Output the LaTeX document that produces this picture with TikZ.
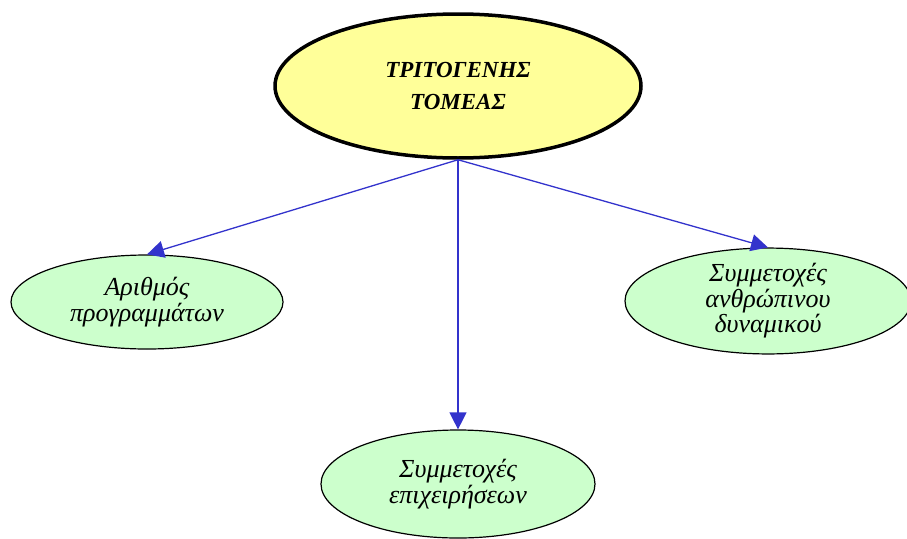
\documentclass[tikz,border=0pt]{standalone}
\usepackage{fontspec}
\setmainfont{Liberation Serif}
\usetikzlibrary{shapes.geometric,arrows.meta}
\definecolor{topfill}{HTML}{FFFF99}
\definecolor{leaffill}{HTML}{CCFFCC}
\definecolor{edgeblue}{HTML}{3333CC}
\begin{document}
\begin{tikzpicture}[x=1pt,y=-1pt,
  rootnode/.style={ellipse,draw=black,line width=3.5pt,fill=topfill,minimum width=366pt,minimum height=144pt,inner sep=0pt,align=center,font=\fontsize{23}{32}\selectfont\itshape\bfseries},
  leafnode/.style={ellipse,draw=black,line width=1.2pt,fill=leaffill,inner sep=0pt,align=center,font=\fontsize{26}{25.5}\selectfont\itshape},
  link/.style={draw=edgeblue,line width=1.3pt,-{Triangle[length=17pt,width=17pt]}}]
\useasboundingbox (0,0) rectangle (907,538);
\node[rootnode] (root) at (458,86) {ΤΡΙΤΟΓΕΝΗΣ\\ΤΟΜΕΑΣ};
\node[leafnode,minimum width=272pt,minimum height=94pt] (a) at (147,302) {Αριθμός\\προγραμμάτων};
\node[leafnode,minimum width=286pt,minimum height=96pt] (b) at (768,301) {Συμμετοχές\\ανθρώπινου\\δυναμικού};
\node[leafnode,minimum width=274pt,minimum height=108pt] (c) at (458,484) {Συμμετοχές\\επιχειρήσεων};
\coordinate (o) at (root.south);
\draw[link] (o) -- (a.north);
\draw[link] (o) -- (b.north);
\draw[link] (o) -- (c.north);
\end{tikzpicture}
\end{document}
